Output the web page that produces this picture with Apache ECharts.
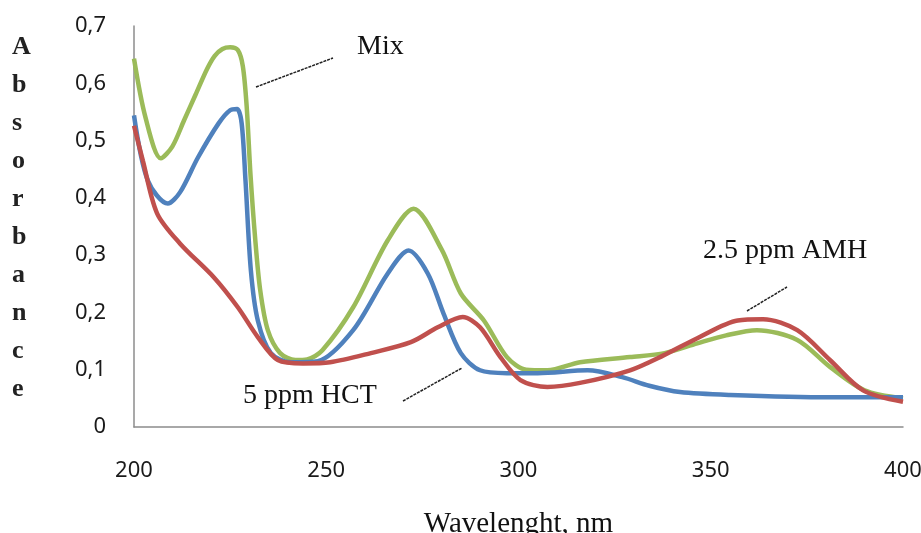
<!DOCTYPE html>
<html>
<head>
<meta charset="utf-8">
<script src="https://cdn.jsdelivr.net/npm/echarts@6/dist/echarts.min.js"></script>
<style>
  html, body { margin: 0; padding: 0; background: #fff; }
  #chart { width: 921px; height: 533px; }
</style>
</head>
<body>
<div id="chart"></div>
<script>
// wavelength (nm) / absorbance
const mixWl = [200, 203, 207, 210, 213, 216, 219, 221, 223, 225, 227, 228.3, 229.3, 230.3, 231.5, 232.8, 234.8, 238, 242, 245, 249, 257, 266, 272.7, 280, 285, 291, 297, 302, 307.5, 316, 329, 338, 346.5, 354, 362, 372.5, 381, 390, 400];
const mixAbs = [0.643, 0.54, 0.469, 0.49, 0.535, 0.58, 0.625, 0.648, 0.66, 0.663, 0.658, 0.63, 0.56, 0.44, 0.33, 0.24, 0.169, 0.129, 0.117, 0.118, 0.134, 0.209, 0.326, 0.381, 0.31, 0.233, 0.186, 0.122, 0.1, 0.099, 0.113, 0.122, 0.129, 0.146, 0.16, 0.169, 0.152, 0.105, 0.064, 0.05];

const hctWl = [200, 203.6, 208.8, 212, 216.6, 222, 225, 226.8, 228, 229, 230.4, 232.2, 235.6, 240.8, 247.8, 257, 266, 271.4, 276.4, 280.5, 285, 290, 297, 305, 318, 327, 334, 342, 355, 381, 400];
const hctAbs = [0.544, 0.43, 0.39, 0.41, 0.47, 0.53, 0.553, 0.555, 0.53, 0.43, 0.273, 0.186, 0.129, 0.113, 0.115, 0.169, 0.268, 0.308, 0.268, 0.198, 0.129, 0.099, 0.094, 0.094, 0.099, 0.087, 0.072, 0.061, 0.056, 0.052, 0.052];

const amhWl = [200, 202.3, 206, 212, 220.8, 227, 232.2, 237.4, 244, 251, 261.6, 272, 279, 285.5, 290, 295.3, 300.5, 307.5, 316, 329, 337.7, 346.5, 357, 363.6, 372.5, 381, 389.6, 400];
const amhAbs = [0.526, 0.465, 0.373, 0.32, 0.261, 0.209, 0.157, 0.117, 0.111, 0.113, 0.129, 0.148, 0.174, 0.192, 0.174, 0.122, 0.082, 0.07, 0.077, 0.099, 0.125, 0.155, 0.186, 0.188, 0.169, 0.117, 0.064, 0.044];

const xTicks = [200, 250, 300, 350, 400];
const yTicks = ['0', '0,1', '0,2', '0,3', '0,4', '0,5', '0,6', '0,7'];

const pairs = (wl, ab) => wl.map((x, i) => [x, ab[i]]);

const serif = '"Liberation Serif", "DejaVu Serif", serif';
const labelFont = { color: '#1a1a1a', fontSize: 22, fontFamily: '"Noto Sans", sans-serif' };

function curve(name, color, data) {
  return {
    name: name,
    type: 'line',
    data: data,
    smooth: 0.3,
    showSymbol: false,
    lineStyle: { color: color, width: 4.5 },
    itemStyle: { color: color },
    silent: true
  };
}

const myChart = echarts.init(document.getElementById('chart'));
const option = {
  backgroundColor: '#fff',
  animation: false,
  grid: { left: 134, right: 18, top: 26, bottom: 106, containLabel: false, outerBoundsMode: 'none' },
  xAxis: {
    type: 'value',
    min: 200,
    max: 400,
    interval: 50,
    axisLine: { show: true, lineStyle: { color: '#8c8c8c', width: 1.5 } },
    axisTick: { show: false },
    splitLine: { show: false },
    axisLabel: Object.assign({ margin: 33, formatter: v => xTicks.indexOf(v) >= 0 ? String(v) : '' }, labelFont),
    name: 'Wavelenght, nm',
    nameLocation: 'middle',
    nameGap: 83,
    nameTextStyle: { fontFamily: serif, fontSize: 29, color: '#111' }
  },
  yAxis: {
    type: 'value',
    min: 0,
    max: 0.7,
    interval: 0.1,
    axisLine: { show: true, lineStyle: { color: '#8c8c8c', width: 1.5 } },
    axisTick: { show: false },
    splitLine: { show: false },
    axisLabel: Object.assign({ margin: 28, formatter: v => yTicks[Math.round(v * 10)] }, labelFont)
  },
  graphic: [
    {
      type: 'text', left: 12, top: 28,
      style: {
        text: 'Absorbance'.split('').join('\n'),
        font: 'bold 26px ' + serif, fill: '#222',
        lineHeight: 38, align: 'center'
      }
    },
    { type: 'text', left: 357, top: 33, style: { text: 'Mix', font: '28px ' + serif, fill: '#111' } },
    { type: 'line', shape: { x1: 256, y1: 87, x2: 333, y2: 58 }, style: { stroke: '#222', lineWidth: 1.5, lineDash: [3, 1] } },
    { type: 'text', left: 243, top: 382, style: { text: '5 ppm HCT', font: '28px ' + serif, fill: '#111' } },
    { type: 'line', shape: { x1: 403, y1: 401, x2: 462, y2: 368 }, style: { stroke: '#222', lineWidth: 1.5, lineDash: [3, 1] } },
    { type: 'text', left: 703, top: 237, style: { text: '2.5 ppm AMH', font: '28px ' + serif, fill: '#111' } },
    { type: 'line', shape: { x1: 747, y1: 311, x2: 787, y2: 287 }, style: { stroke: '#222', lineWidth: 1.5, lineDash: [3, 1] } }
  ],
  series: [
    curve('Mix', '#9BBB59', pairs(mixWl, mixAbs)),
    curve('5 ppm HCT', '#4F81BD', pairs(hctWl, hctAbs)),
    curve('2.5 ppm AMH', '#C0504D', pairs(amhWl, amhAbs))
  ]
};
myChart.setOption(option);
window.addEventListener('resize', () => {
  myChart.resize();
});
</script>
</body>
</html>
